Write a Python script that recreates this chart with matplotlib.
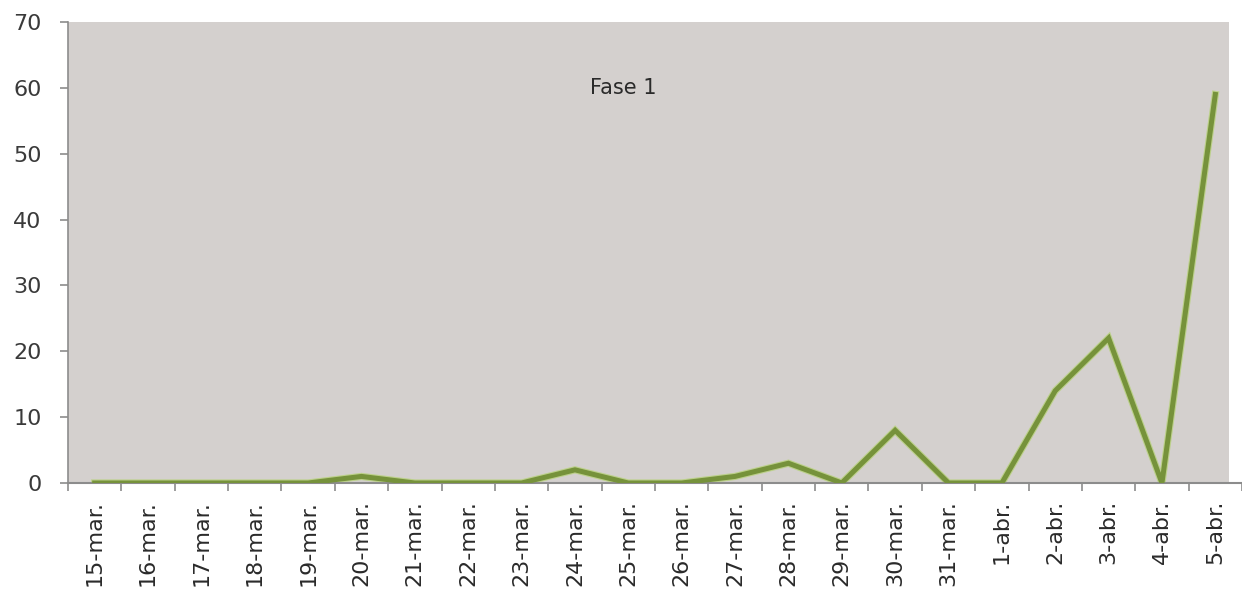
import matplotlib
matplotlib.use("Agg")
import matplotlib.pyplot as plt
from matplotlib.patches import Rectangle

categories = ["15-mar.", "16-mar.", "17-mar.", "18-mar.", "19-mar.", "20-mar.", "21-mar.",
              "22-mar.", "23-mar.", "24-mar.", "25-mar.", "26-mar.", "27-mar.", "28-mar.",
              "29-mar.", "30-mar.", "31-mar.", "1-abr.", "2-abr.", "3-abr.", "4-abr.", "5-abr."]
values = [0, 0, 0, 0, 0, 1, 0, 0, 0, 2, 0, 0, 1, 3, 0, 8, 0, 0, 14, 22, 0, 59]
yticks = [0, 10, 20, 30, 40, 50, 60, 70]
title = "Fase 1"

plt.rcParams['font.family'] = ['DejaVu Sans']

fig = plt.figure(figsize=(12.42, 6.0), dpi=100)
ax = fig.add_axes([68/1242, 1-483/600, 1-68/1242, (483-22)/600])
ax.set_facecolor("none")
ax.add_patch(Rectangle((0, 0), (1229-68)/(1242-68), 1, transform=ax.transAxes,
                       facecolor="#d4d0ce", edgecolor="none", zorder=0))

x = list(range(len(categories)))
ax.plot(x, values, color="#bcd08a", lw=5.2, solid_joinstyle="miter", zorder=2)
ax.plot(x, values, color="#76923b", lw=3.6, solid_joinstyle="miter", zorder=3)

ax.set_xlim(-0.5, len(categories) - 0.5)
ax.set_ylim(0, 70)
ax.set_yticks(yticks)
ax.set_yticklabels([str(v) for v in yticks], fontsize=16, color="#3a3a3a")
ax.set_xticks(x)
ax.set_xticklabels(categories, rotation=90, fontsize=16, color="#2a2a2a")
ax.set_xticks([i - 0.5 for i in range(len(categories) + 1)], minor=True)
ax.tick_params(axis="x", which="major", length=0, pad=12)
ax.tick_params(axis="x", which="minor", length=6, color="#8c8c8c", width=1.2)
ax.tick_params(axis="y", length=6, color="#8c8c8c", width=1.2, pad=13)

for s in ["top", "right"]:
    ax.spines[s].set_visible(False)
ax.spines["left"].set_color("#8c8c8c")
ax.spines["bottom"].set_color("#8c8c8c")
ax.spines["left"].set_linewidth(1.2)
ax.spines["bottom"].set_linewidth(1.5)

fig.text(623/1242, 1-88/600, title, fontsize=15, color="#2a2a2a",
         ha="center", va="center")

fig.savefig("out.png", dpi=100)
